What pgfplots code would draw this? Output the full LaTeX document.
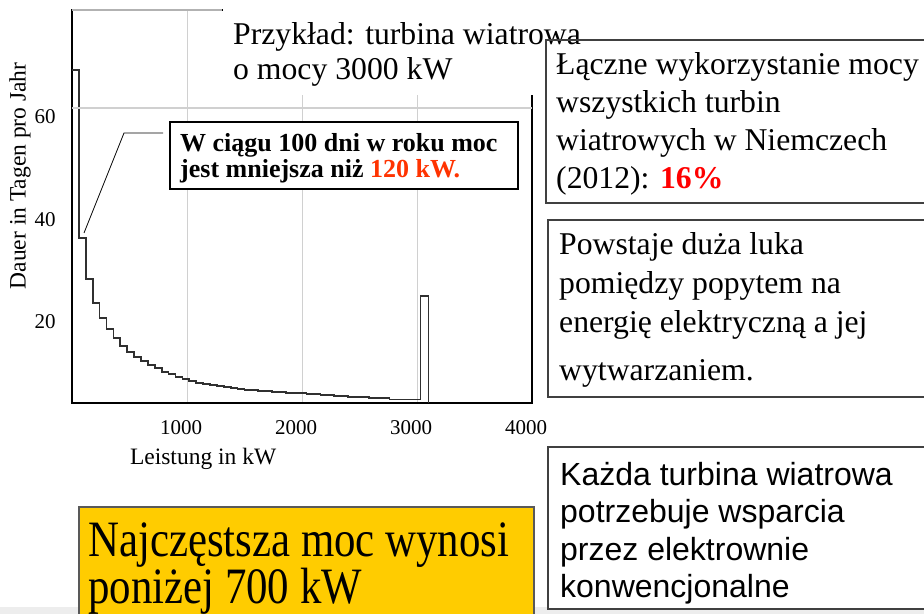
\documentclass[border=0pt]{standalone}
\usepackage{fontspec}
\setmainfont{Liberation Serif}
\setsansfont{Liberation Sans}
\usepackage{graphicx}
\usepackage{pgfplots}
\pgfplotsset{compat=1.18}
\definecolor{gridc}{HTML}{D0D0D0}
\definecolor{boxc}{HTML}{404040}
\definecolor{curvec}{HTML}{303030}
\definecolor{yel}{HTML}{FFCC00}
\definecolor{orred}{HTML}{FF3300}
\begin{document}
\begin{tikzpicture}[x=1bp,y=1bp]
\path[use as bounding box] (0,0) rectangle (924,-614);
\begin{axis}[
  at={(72bp,-403bp)}, anchor=south west,
  scale only axis, width=460bp, height=393bp,
  xmin=0, xmax=4000, ymin=4.195, ymax=80.88,
  xtick={1000,2000,3000,4000}, ytick={20,40,60},
  scaled x ticks=false,
  major tick length=0pt,
  xmajorgrids,
  grid style={gridc, line width=0.9bp},
  /pgf/number format/assume math mode=true,
  /pgf/number format/1000 sep={},
  ticklabel style={font=\fontsize{21bp}{25bp}\selectfont},
  xticklabel style={anchor=center, yshift=-25bp, xshift=-6bp},
  yticklabel style={anchor=center, xshift=-27bp},
  xlabel={Leistung in kW},
  ylabel={Dauer in Tagen pro Jahr},
  label style={font=\fontsize{23.5bp}{28bp}\selectfont},
  xlabel style={at={(axis description cs:0.285,-0.1425)}, anchor=center},
  ylabel style={at={(axis description cs:-0.113,0.578)}, anchor=center},
  axis line style={black, line width=1.3bp},
  axis on top=false,
]
\draw[gridc, line width=1.1bp] (axis cs:0,61.76) -- (axis cs:4000,61.76);
\addplot[const plot mark left, curvec, line width=1.7bp] coordinates {
(0,69.2)(60,36.4)(120,28.4)(180,23.7)(240,20.8)(300,18.6)(360,16.9)(420,15.3)
(480,14.1)(540,13.2)(600,12.4)(660,11.6)(720,11.0)(780,10.2)(840,9.9)(900,9.3)
(960,8.9)(1020,8.5)(1080,8.1)(1140,7.9)(1200,7.7)(1260,7.5)(1320,7.3)(1380,7.1)
(1440,6.9)(1500,6.8)(1560,6.7)(1620,6.6)(1680,6.5)(1740,6.4)(1800,6.3)(1860,6.2)
(1920,6.1)(1980,6.1)(2040,6.0)(2100,5.9)(2160,5.8)(2220,5.7)(2280,5.6)(2340,5.5)
(2400,5.4)(2460,5.3)(2520,5.3)(2580,5.2)(2640,5.2)(2700,5.2)(2760,4.9)(2820,4.9)
(2880,4.9)(2940,4.9)(3030,25.1)(3100,4.195)
};
\end{axis}
% horizontal grid line (light) across the plot area
\draw[gridc, line width=1.1bp] (73,-108) -- (531,-108);
% gray top border segment and white cover behind title text
\draw[gray!60, line width=1.3bp] (72,-10) -- (222,-10);
\fill[white] (222.5,1) rectangle (548,-95);
% callout
\draw[black, line width=0.8bp] (84,-233) -- (124,-133) -- (163,-133);
\draw[black, fill=white, line width=1.2bp] (170,-122) rectangle (518,-189);
\node[anchor=base west, inner sep=0] at (180,-152) {\fontsize{26bp}{26bp}\selectfont\bfseries W ciągu 100 dni w roku moc};
\node[anchor=base west, inner sep=0] at (180,-178) {\fontsize{26bp}{26bp}\selectfont\bfseries jest mniejsza niż \textcolor{orred}{120 kW.}};
% title text
\node[anchor=base west, inner sep=0] at (233,-45) {\fontsize{31.7bp}{38bp}\selectfont Przykład: turbina wiatrowa};
\node[anchor=base west, inner sep=0] at (233,-80) {\fontsize{31.7bp}{38bp}\selectfont o mocy 3000 kW};
% right boxes
\draw[boxc, line width=1.2bp] (546,-40) rectangle (930,-203);
\node[anchor=base west, inner sep=0] at (556,-75) {\fontsize{31.7bp}{38bp}\selectfont Łączne wykorzystanie mocy};
\node[anchor=base west, inner sep=0] at (556,-113) {\fontsize{31.7bp}{38bp}\selectfont wszystkich turbin};
\node[anchor=base west, inner sep=0] at (556,-151) {\fontsize{31.7bp}{38bp}\selectfont wiatrowych w Niemczech};
\node[anchor=base west, inner sep=0] at (556,-189) {\fontsize{31.7bp}{38bp}\selectfont (2012): \textcolor{red}{\bfseries 16\%}};
\draw[boxc, line width=1.2bp] (548,-220) rectangle (930,-397);
\node[anchor=base west, inner sep=0] at (559,-255) {\fontsize{31.7bp}{38bp}\selectfont Powstaje duża luka};
\node[anchor=base west, inner sep=0] at (559,-293) {\fontsize{31.7bp}{38bp}\selectfont pomiędzy popytem na};
\node[anchor=base west, inner sep=0] at (559,-332) {\fontsize{31.7bp}{38bp}\selectfont energię elektryczną a jej};
\node[anchor=base west, inner sep=0] at (559,-380) {\fontsize{31.7bp}{38bp}\selectfont wytwarzaniem.};
% bottom strip
\fill[black!7] (0,-607) rectangle (924,-615);
\draw[boxc, fill=white, line width=1.2bp] (548,-447) rectangle (930,-609);
\node[anchor=base west, inner sep=0] at (560,-485) {\sffamily\fontsize{32bp}{38bp}\selectfont Każda turbina wiatrowa};
\node[anchor=base west, inner sep=0] at (560,-522) {\sffamily\fontsize{32bp}{38bp}\selectfont potrzebuje wsparcia};
\node[anchor=base west, inner sep=0] at (560,-560) {\sffamily\fontsize{32bp}{38bp}\selectfont przez elektrownie};
\node[anchor=base west, inner sep=0] at (560,-597) {\sffamily\fontsize{32bp}{38bp}\selectfont konwencjonalne};
% yellow box
\draw[black!65, fill=yel, line width=1.2bp] (79,-507) rectangle (534,-625);
\node[anchor=base west, inner sep=0] at (88,-556) {\scalebox{0.84}[1]{\fontsize{51bp}{51bp}\selectfont Najczęstsza moc wynosi}};
\node[anchor=base west, inner sep=0] at (88,-603) {\scalebox{0.84}[1]{\fontsize{51bp}{51bp}\selectfont poniżej 700 kW}};
\end{tikzpicture}
\end{document}
